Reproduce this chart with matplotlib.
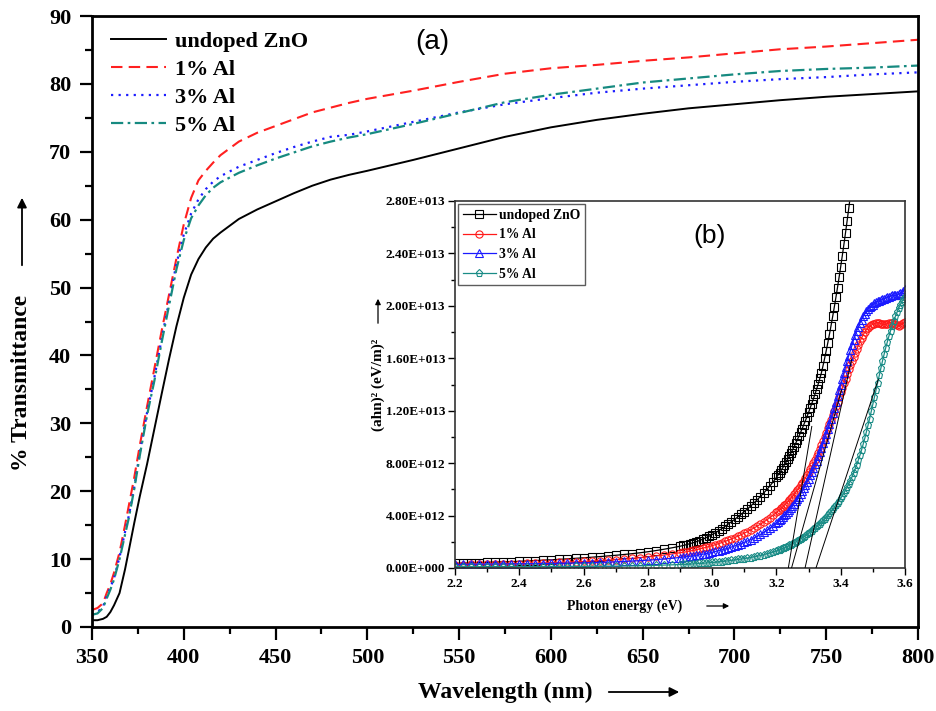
import numpy as np
import matplotlib.pyplot as plt
from matplotlib.patches import FancyArrowPatch
from matplotlib.ticker import MultipleLocator, FuncFormatter

plt.rcParams['font.family'] = ['Liberation Serif', 'DejaVu Serif']
plt.rcParams['font.weight'] = 'bold'

# ---------------- main panel: transmittance spectra ----------------
wavelength = [350, 353, 356, 358, 360, 362, 365, 368, 370, 373, 376, 380, 384, 388,
              392, 396, 400, 404, 408, 412, 416, 420, 430, 440, 450, 460, 470, 480,
              490, 500, 525, 550, 575, 600, 625, 650, 675, 700, 725, 750, 775, 800]

t_undoped = [1.0, 1.0, 1.2, 1.5, 2.2, 3.2, 5.0, 8.5, 11.2, 15.3, 19.2, 24.0, 29.2, 34.4,
             39.5, 44.3, 48.5, 51.9, 54.2, 55.9, 57.2, 58.1, 60.1, 61.5, 62.7, 63.9, 65.0, 65.9,
             66.6, 67.2, 68.8, 70.5, 72.2, 73.6, 74.7, 75.6, 76.4, 77.0, 77.6, 78.1, 78.5, 78.9]

t_al1 = [2.5, 2.8, 3.5, 5.0, 6.3, 8.0, 11.0, 15.0, 17.8, 22.0, 26.7, 32.5, 38.1, 43.7,
         49.0, 54.3, 59.3, 63.2, 65.8, 67.2, 68.4, 69.5, 71.5, 72.8, 73.8, 74.8, 75.8, 76.5,
         77.2, 77.8, 79.0, 80.3, 81.5, 82.3, 82.8, 83.4, 83.9, 84.5, 85.1, 85.5, 86.0, 86.5]

t_al3 = [1.8, 2.2, 3.0, 4.5, 5.8, 7.2, 10.3, 14.0, 16.3, 20.6, 25.6, 31.6, 36.8, 42.5,
         48.0, 53.5, 57.8, 60.9, 63.0, 64.5, 65.6, 66.4, 67.8, 68.8, 69.8, 70.7, 71.5, 72.2,
         72.5, 73.0, 74.4, 75.8, 77.0, 77.9, 78.7, 79.3, 79.8, 80.3, 80.7, 81.0, 81.4, 81.7]

t_al5 = [1.8, 2.0, 2.8, 4.2, 5.5, 7.0, 10.0, 13.6, 16.0, 20.3, 25.2, 31.2, 36.3, 42.0,
         47.4, 52.7, 57.0, 60.2, 62.1, 63.6, 64.7, 65.5, 66.9, 68.0, 69.0, 69.9, 70.8, 71.5,
         72.1, 72.6, 74.1, 75.7, 77.3, 78.4, 79.3, 80.2, 80.8, 81.4, 81.9, 82.2, 82.4, 82.7]

sample_labels = ['undoped ZnO', '1% Al', '3% Al', '5% Al']

# ---------------- inset: Tauc plot ----------------
energy_low = [2.200, 2.225, 2.250, 2.275, 2.300, 2.325, 2.350, 2.375, 2.400, 2.425,
              2.450, 2.475, 2.500, 2.525, 2.550, 2.575, 2.600, 2.625, 2.650, 2.675,
              2.700, 2.725, 2.750, 2.775, 2.800, 2.825, 2.850, 2.875]
energy_mid = [round(2.90 + 0.01 * i, 3) for i in range(30)]      # 2.90 ... 3.19
energy_high = [round(3.20 + 0.005 * i, 3) for i in range(81)]    # 3.200 ... 3.600
energy = energy_low + energy_mid + energy_high

# (alpha h nu)^2 in units of 1e12 (eV/m)^2
tauc_undoped = [
    0.35, 0.37, 0.39, 0.41, 0.43, 0.45, 0.47, 0.49, 0.51, 0.54,
    0.57, 0.60, 0.63, 0.66, 0.70, 0.74, 0.78, 0.82, 0.87, 0.92,
    0.97, 1.03, 1.09, 1.16, 1.24, 1.33, 1.43, 1.54,
    1.66, 1.72, 1.78, 1.85, 1.92, 2.00, 2.09, 2.19, 2.30, 2.42,
    2.55, 2.69, 2.84, 3.00, 3.17, 3.35, 3.53, 3.71, 3.90, 4.10,
    4.30, 4.51, 4.73, 4.96, 5.20, 5.45, 5.71, 5.98, 6.27, 6.58,
    6.91, 7.09, 7.27, 7.46, 7.66, 7.87, 8.08, 8.30, 8.53, 8.77,
    9.01, 9.26, 9.52, 9.79, 10.06, 10.34, 10.63, 10.93, 11.23, 11.55,
    11.87, 12.21, 12.55, 12.91, 13.27, 13.65, 14.04, 14.46, 14.90, 15.44,
    16.00, 16.59, 17.20, 17.84, 18.50, 19.19, 19.90, 20.64, 21.40, 22.19,
    23.00, 23.84, 24.70, 25.59, 26.50, 27.44, 28.40, 29.40]

tauc_al1 = [
    0.25, 0.26, 0.27, 0.28, 0.29, 0.30, 0.31, 0.32, 0.33, 0.35,
    0.37, 0.39, 0.41, 0.43, 0.45, 0.47, 0.50, 0.53, 0.56, 0.60,
    0.64, 0.68, 0.73, 0.79, 0.85, 0.92, 0.99, 1.07,
    1.16, 1.20, 1.24, 1.29, 1.34, 1.39, 1.45, 1.51, 1.57, 1.64,
    1.71, 1.78, 1.86, 1.94, 2.03, 2.12, 2.22, 2.32, 2.43, 2.54,
    2.66, 2.78, 2.91, 3.05, 3.19, 3.34, 3.50, 3.67, 3.85, 4.04,
    4.24, 4.34, 4.45, 4.56, 4.68, 4.80, 4.92, 5.05, 5.18, 5.31,
    5.45, 5.61, 5.78, 5.95, 6.12, 6.30, 6.48, 6.67, 6.87, 7.08,
    7.30, 7.52, 7.75, 8.00, 8.25, 8.52, 8.80, 9.10, 9.40, 9.70,
    10.00, 10.32, 10.65, 10.97, 11.30, 11.65, 12.00, 12.35, 12.70, 13.05,
    13.40, 13.75, 14.10, 14.45, 14.80, 15.15, 15.50, 15.80, 16.10, 16.40,
    16.70, 17.00, 17.30, 17.55, 17.80, 18.00, 18.20, 18.33, 18.45, 18.53,
    18.60, 18.65, 18.70, 18.72, 18.70, 18.65, 18.60, 18.58, 18.60, 18.65,
    18.70, 18.72, 18.70, 18.65, 18.60, 18.55, 18.50, 18.52, 18.60, 18.70, 18.80]

tauc_al3 = [
    0.28, 0.28, 0.29, 0.29, 0.30, 0.30, 0.31, 0.31, 0.32, 0.32,
    0.33, 0.34, 0.35, 0.36, 0.37, 0.38, 0.39, 0.41, 0.43, 0.45,
    0.47, 0.50, 0.53, 0.56, 0.60, 0.64, 0.69, 0.74,
    0.80, 0.83, 0.86, 0.89, 0.93, 0.97, 1.01, 1.05, 1.10, 1.15,
    1.20, 1.26, 1.32, 1.38, 1.45, 1.52, 1.60, 1.68, 1.77, 1.86,
    1.96, 2.06, 2.17, 2.29, 2.42, 2.56, 2.71, 2.87, 3.04, 3.23,
    3.43, 3.54, 3.65, 3.77, 3.89, 4.02, 4.15, 4.29, 4.43, 4.58,
    4.74, 4.91, 5.08, 5.26, 5.45, 5.65, 5.86, 6.08, 6.31, 6.55,
    6.80, 7.06, 7.33, 7.61, 7.90, 8.20, 8.51, 8.83, 9.16, 9.50,
    9.85, 10.22, 10.60, 11.00, 11.40, 11.80, 12.20, 12.65, 13.10, 13.55,
    14.00, 14.45, 14.90, 15.35, 15.80, 16.20, 16.60, 17.00, 17.40, 17.75,
    18.10, 18.40, 18.70, 18.95, 19.20, 19.40, 19.60, 19.75, 19.90, 20.00,
    20.10, 20.20, 20.30, 20.35, 20.40, 20.45, 20.50, 20.55, 20.60, 20.65,
    20.70, 20.75, 20.80, 20.80, 20.80, 20.85, 20.90, 20.95, 21.00, 21.15, 21.30]

tauc_al5 = [
    0.10, 0.10, 0.10, 0.10, 0.10, 0.10, 0.10, 0.10, 0.10, 0.10,
    0.10, 0.11, 0.11, 0.11, 0.11, 0.12, 0.12, 0.13, 0.13, 0.14,
    0.14, 0.15, 0.16, 0.17, 0.18, 0.20, 0.22, 0.24,
    0.26, 0.27, 0.28, 0.30, 0.31, 0.33, 0.35, 0.36, 0.38, 0.40,
    0.42, 0.44, 0.47, 0.49, 0.52, 0.55, 0.58, 0.61, 0.65, 0.68,
    0.72, 0.76, 0.80, 0.85, 0.90, 0.95, 1.01, 1.08, 1.14, 1.22,
    1.30, 1.34, 1.39, 1.44, 1.49, 1.54, 1.60, 1.66, 1.72, 1.78,
    1.85, 1.92, 1.99, 2.06, 2.14, 2.22, 2.30, 2.38, 2.47, 2.56,
    2.65, 2.75, 2.85, 2.95, 3.06, 3.17, 3.28, 3.39, 3.51, 3.63,
    3.76, 3.89, 4.03, 4.17, 4.32, 4.47, 4.63, 4.79, 4.96, 5.14,
    5.32, 5.52, 5.72, 5.94, 6.16, 6.40, 6.66, 6.94, 7.23, 7.55,
    7.88, 8.24, 8.62, 9.02, 9.45, 9.90, 10.40, 10.90, 11.40, 11.95,
    12.50, 13.05, 13.60, 14.15, 14.70, 15.25, 15.80, 16.30, 16.80, 17.25,
    17.70, 18.10, 18.50, 18.85, 19.20, 19.50, 19.80, 20.05, 20.30, 20.50, 20.70]

# linear extrapolations to the energy axis: intercept (eV) and upper end point
fit_intercept = [3.237, 3.247, 3.289, 3.323]
fit_end_energy = [3.31, 3.403, 3.434, 3.517]
fit_end_value = [10.8, 13.6, 15.9, 14.4]

# ---------------- figure ----------------
W, H = 936, 711
fig = plt.figure(figsize=(W / 100, H / 100), dpi=100)


def box(l, t, r, b):
    return [l / W, 1 - b / H, (r - l) / W, (b - t) / H]


def fig_arrow(x0, y0, x1, y1, scale, lw):
    fig.add_artist(FancyArrowPatch((x0 / W, 1 - y0 / H), (x1 / W, 1 - y1 / H),
                                   transform=fig.transFigure, arrowstyle='-|>',
                                   mutation_scale=scale, lw=lw, color='black'))


ax = fig.add_axes(box(92, 16, 918, 627))

ax.plot(wavelength, t_undoped, color='black', lw=1.4, label=sample_labels[0])
ax.plot(wavelength, t_al1, color='#ff2020', lw=1.5, dashes=(5.5, 3.0), label=sample_labels[1])
ax.plot(wavelength, t_al3, color='#1c1cff', lw=1.6, dashes=(1.0, 2.4), label=sample_labels[2])
ax.plot(wavelength, t_al5, color='#168a80', lw=1.6, dashes=(5.5, 2.0, 1.2, 2.0), label=sample_labels[3])

ax.set_xlim(350, 800)
ax.set_ylim(0, 90)
ax.xaxis.set_major_locator(MultipleLocator(50))
ax.xaxis.set_minor_locator(MultipleLocator(25))
ax.yaxis.set_major_locator(MultipleLocator(10))
ax.yaxis.set_minor_locator(MultipleLocator(5))
ax.tick_params(which='both', direction='out', width=1.6, labelsize=16, pad=6)
ax.tick_params(which='major', length=9)
ax.tick_params(which='minor', length=5)
for s in ax.spines.values():
    s.set_linewidth(2.0)
for lab in ax.get_xticklabels() + ax.get_yticklabels():
    lab.set_fontweight('bold')

ax.legend(loc='upper left', bbox_to_anchor=(0.004, 1.0), frameon=False,
          fontsize=16, handlelength=2.5, handletextpad=0.4, labelspacing=0.33,
          borderaxespad=0.3)

ax.text(0.412, 0.957, '(a)', transform=ax.transAxes, ha='center', va='center',
        fontsize=20, fontweight='normal', family=['Liberation Sans', 'DejaVu Sans'])

fig.text(505 / W, 1 - 692 / H, 'Wavelength (nm)', ha='center', va='center',
         fontsize=17, fontweight='bold')
fig_arrow(606, 692, 682, 692, 14, 1.3)

fig.text(22 / W, 1 - 383 / H, '% Transmittance', ha='center', va='center',
         rotation=90, fontsize=17, fontweight='bold')
fig_arrow(22, 268, 22, 195, 14, 1.3)

# ---------------- inset ----------------
ax2 = fig.add_axes(box(455, 201, 905, 568))

styles = [
    (tauc_undoped, 'black', 's'),
    (tauc_al1, '#ff1a1a', 'o'),
    (tauc_al3, '#1a1aff', '^'),
    (tauc_al5, '#1a8c86', 'p'),
]
for (vals, col, mk), lab in zip(styles, sample_labels):
    e = energy[:len(vals)]
    ax2.plot(e, np.array(vals) * 1e12, color=col, lw=0.9, marker=mk, ms=5.2,
             mfc='none', mec=col, mew=0.8, label=lab)

for eg, ee, ev in zip(fit_intercept, fit_end_energy, fit_end_value):
    ax2.plot([eg, ee], [0, ev * 1e12], color='black', lw=0.7, zorder=5)

ax2.set_xlim(2.2, 3.6)
ax2.set_ylim(0, 2.8e13)
ax2.xaxis.set_major_locator(MultipleLocator(0.2))
ax2.xaxis.set_minor_locator(MultipleLocator(0.1))
ax2.yaxis.set_major_locator(MultipleLocator(4e12))
ax2.yaxis.set_minor_locator(MultipleLocator(2e12))


def sci_fmt(v, pos):
    mant, exp = f"{v:.2e}".split('e')
    return f"{mant}E{exp[0]}{int(exp[1:]):03d}"


ax2.yaxis.set_major_formatter(FuncFormatter(sci_fmt))
ax2.xaxis.set_major_formatter(FuncFormatter(lambda v, p: f"{v:.1f}"))
ax2.tick_params(which='both', direction='out', width=1.0, labelsize=9.5, pad=2)
ax2.tick_params(which='major', length=5)
ax2.tick_params(which='minor', length=3)
for s in ax2.spines.values():
    s.set_linewidth(1.2)
    s.set_color('#333333')
for lab in ax2.get_xticklabels() + ax2.get_yticklabels():
    lab.set_fontweight('bold')

leg2 = ax2.legend(loc='upper left', bbox_to_anchor=(0.004, 0.995), frameon=True,
                  fancybox=False, edgecolor='#333333', fontsize=9.8, handlelength=2.4,
                  handletextpad=0.25, labelspacing=0.48, borderpad=0.35, borderaxespad=0.1)
leg2.get_frame().set_linewidth(1.0)

ax2.text(0.565, 0.905, '(b)', transform=ax2.transAxes, ha='center', va='center',
         fontsize=19, fontweight='normal', family=['Liberation Sans', 'DejaVu Sans'])

fig.text(625 / W, 1 - 606 / H, 'Photon energy (eV)', ha='center', va='center',
         fontsize=10, fontweight='bold')
fig_arrow(704, 606, 732, 606, 8, 0.9)

fig.text(378 / W, 1 - 385 / H, '(ahn)² (eV/m)²', ha='center', va='center',
         rotation=90, fontsize=11, fontweight='bold')
fig_arrow(378, 326, 378, 296, 8, 0.9)

fig.savefig('out.png', dpi=100)
